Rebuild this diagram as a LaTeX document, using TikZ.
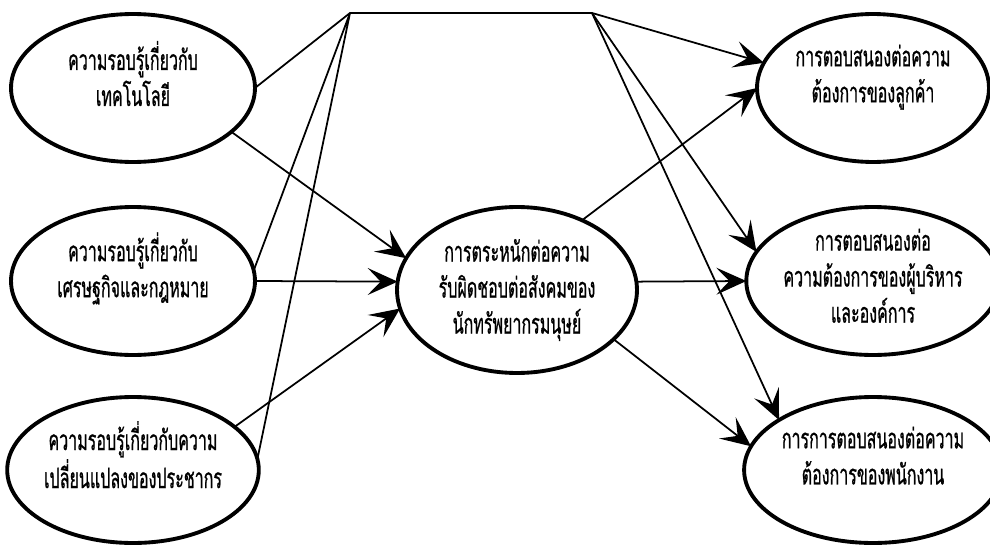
\documentclass[tikz,border=0pt]{standalone}
\usepackage{fontspec}
\newfontfamily\thaifont[Script=Thai, FakeStretch=0.57, FakeBold=0.7]{Loma}
\usepackage{tikz}
\usetikzlibrary{arrows.meta}
\usetikzlibrary{shapes.geometric}

\begin{document}
\begin{tikzpicture} [x = 0.02cm, y = -0.02cm,
    blob/.style = {draw, ellipse, line width = 2.2pt, inner sep = 0, outer sep = 0,
        minimum width = 4.88cm, minimum height = 2.96cm, align = center,
        font = \thaifont\fontsize{16}{20.5}\selectfont},
    link/.style = {line width = 1pt},
    arr/.style = {link, -{Stealth[length = 6mm, width = 5.4mm, inset = 2.6mm]}}]
    \useasboundingbox (0, 0) rectangle (990, 544);

    \node[blob] (tech) at (133, 88) {ความรอบรู้เกี่ยวกับ\\เทคโนโลยี\\[-4pt]};
    \node[blob] (econ) at (133, 281) {ความรอบรู้เกี่ยวกับ\\เศรษฐกิจและกฎหมาย\\[-2pt]};
    \node[blob, minimum height = 2.92cm] (pop) at (133, 470)
        {ความรอบรู้เกี่ยวกับความ\\เปลี่ยนแปลงของประชากร\\[-3pt]};
    \node[blob, minimum width = 4.8cm, minimum height = 3.32cm] (aware) at (517, 290)
        {การตระหนักต่อความ\\รับผิดชอบต่อสังคมของ\\นักทรัพยากรมนุษย์};
    \node[blob, minimum width = 4.64cm] (cust) at (873, 88)
        {การตอบสนองต่อความ\\ต้องการของลูกค้า\\[-4pt]};
    \node[blob, minimum width = 4.64cm] (mgmt) at (873, 281)
        {\\[-14pt]การตอบสนองต่อ\\ความต้องการของผู้บริหาร\\และองค์การ};
    \node[blob, minimum width = 4.64cm, minimum height = 2.92cm] (staff) at (873, 470)
        {การการตอบสนองต่อความ\\ต้องการของพนักงาน\\[-4pt]};

    \coordinate (topL) at (350, 13);
    \coordinate (topR) at (592, 13);

    \draw[link] (tech.east) -- (topL) -- (topR);
    \draw[link] (econ.5) -- (topL) -- (pop.5);
    \draw[arr] (topR) -- (cust.167);
    \draw[arr] (topR) -- (mgmt.166);
    \draw[arr] (topR) -- (staff.152);

    \draw[arr] (tech.-24) -- (aware.164);
    \draw[arr] (econ.east) -- (aware.176);
    \draw[arr] (pop.23) -- (aware.189);

    \draw[arr] (aware.47) -- (cust.west);
    \draw[arr] (aware.4) -- (mgmt.west);
    \draw[arr] (aware.-27) -- (staff.169);
\end{tikzpicture}
\end{document}
